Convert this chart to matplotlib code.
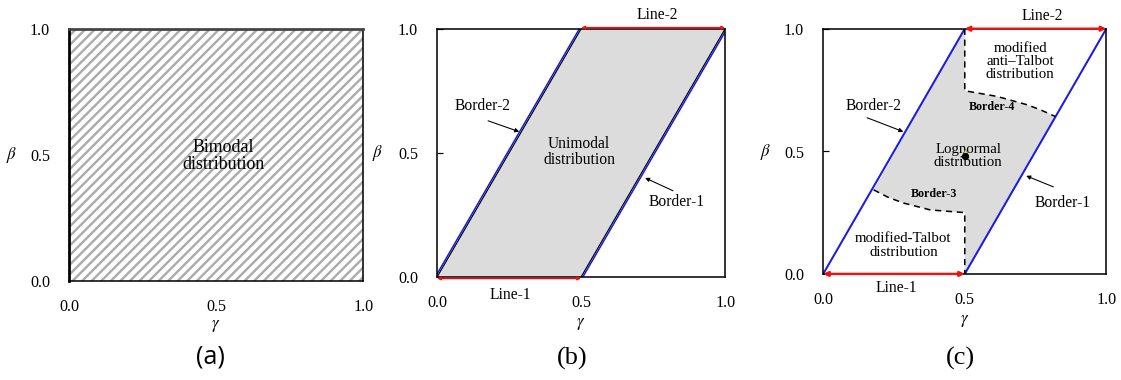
import numpy as np
import matplotlib.pyplot as plt

# dpi chosen so the hatch stripes come out close to the reference spacing
DPI = 86
plt.rcParams['font.family'] = ['Liberation Serif', 'DejaVu Serif']
plt.rcParams['mathtext.fontset'] = 'stix'
plt.rcParams['hatch.linewidth'] = 2.0

# ---- data ----
ticks = [0.0, 0.5, 1.0]
tick_labels = ['0.0', '0.5', '1.0']

# (a) whole square is bimodal
bimodal_g = [0.0, 1.0, 1.0, 0.0]
bimodal_b = [0.0, 0.0, 1.0, 1.0]

# borders of the unimodal region
border1_g = [0.5, 1.0]
border1_b = [0.0, 1.0]
border2_g = [0.0, 0.5]
border2_b = [0.0, 1.0]
line1_g = [0.0, 0.5]
line1_b = [0.0, 0.0]
line2_g = [0.5, 1.0]
line2_b = [1.0, 1.0]

# (c) dashed borders (curve + vertical part)
border3_g = [0.178, 0.23, 0.284, 0.378, 0.5, 0.5]
border3_b = [0.343, 0.312, 0.289, 0.261, 0.25, 0.0]
border4_g = [0.5, 0.5, 0.614, 0.72, 0.77, 0.82]
border4_b = [1.0, 0.747, 0.724, 0.69, 0.668, 0.642]

lognormal_pt = (0.5, 0.48)
symmetric_pt = (0.5, 0.5)

BLUE = '#1c1ce0'
RED = '#f01010'
GREY = '#dcdcdc'

fig = plt.figure(figsize=((1121 + 0.3) / DPI, (380 + 0.3) / DPI), dpi=DPI)
ax_a = fig.add_axes([69/1121, 1-281/380, 294/1121, 252/380])
ax_b = fig.add_axes([437/1121, 1-277/380, 288/1121, 248/380])
ax_c = fig.add_axes([823/1121, 1-274/380, 283/1121, 245/380])


def setup(ax, ytick_len, bx, gy):
    ax.set_xlim(0, 1)
    ax.set_ylim(0, 1)
    ax.set_xticks(ticks)
    ax.set_xticklabels(tick_labels)
    ax.set_yticks(ticks)
    ax.set_yticklabels(tick_labels)
    ax.tick_params(axis='x', length=0, pad=15, labelsize=13.5)
    ax.tick_params(axis='y', direction='in', length=ytick_len, width=1.0,
                   pad=16, labelsize=13.5)
    for s in ax.spines.values():
        s.set_linewidth(1.3)
    ax.text(bx, 0.5, r'$\beta$', transform=ax.transAxes, fontsize=14,
            ha='center', va='center')
    ax.text(0.5, gy, r'$\gamma$', transform=ax.transAxes, fontsize=14,
            ha='center', va='center')


def dbl_arrow(ax, g, b, lw, ms, dy=0.0):
    ax.annotate('', xy=(g[1], b[1] + dy), xytext=(g[0], b[0] + dy),
                arrowprops=dict(arrowstyle='<|-|>', color=RED, lw=lw,
                                mutation_scale=ms, shrinkA=0, shrinkB=0),
                annotation_clip=False, zorder=5)


def pointer(ax, text, txy, tip, tail, size=13):
    ax.text(txy[0], txy[1], text, fontsize=size, ha='center', va='center')
    ax.annotate('', xy=tip, xytext=tail,
                arrowprops=dict(arrowstyle='-|>', color='black', lw=0.9,
                                mutation_scale=7, shrinkA=0, shrinkB=0))


# ---- (a) ----
setup(ax_a, 0, -0.194, -0.178)
ax_a.fill(bimodal_g, bimodal_b, facecolor='white', edgecolor='#ababab',
          hatch='///', lw=0)
ax_a.spines['left'].set_linewidth(2.3)
ax_a.spines['top'].set_linewidth(2.3)
ax_a.spines['top'].set_color('#444444')
ax_a.text(0.524, 0.496, 'Bimodal\ndistribution', fontsize=15,
          ha='center', va='center', linespacing=1.05,
          bbox=dict(facecolor='none', edgecolor='none'))

# ---- (b) ----
setup(ax_b, 5, -0.208, -0.19)
uni_g = np.concatenate([border2_g, border1_g[::-1]])
uni_b = np.concatenate([border2_b, border1_b[::-1]])
ax_b.fill(uni_g, uni_b, color=GREY, lw=0)
ax_b.plot(border2_g, border2_b, color='black', lw=1.0)
ax_b.plot(np.array(border2_g) - 0.006, border2_b, color=BLUE, lw=1.3)
ax_b.plot(border1_g, border1_b, color='black', lw=1.0)
ax_b.plot(np.array(border1_g) + 0.006, border1_b, color=BLUE, lw=1.3)
dbl_arrow(ax_b, line1_g, line1_b, 1.4, 5, dy=-0.006)
dbl_arrow(ax_b, line2_g, line2_b, 1.4, 5, dy=0.004)
ax_b.text(0.493, 0.504, 'Unimodal\ndistribution', fontsize=13,
          ha='center', va='center', linespacing=1.05)
pointer(ax_b, 'Border-2', (0.156, 0.69), (0.285, 0.585), (0.177, 0.629))
pointer(ax_b, 'Border-1', (0.833, 0.302), (0.722, 0.399), (0.819, 0.347))
ax_b.text(0.253, -0.073, 'Line-1', fontsize=13, ha='center', va='center')
ax_b.text(0.764, 1.056, 'Line-2', fontsize=13, ha='center', va='center')

# ---- (c) ----
setup(ax_c, 5, -0.205, -0.19)
logn_g = np.concatenate([border4_g, [border1_g[0]], border3_g[::-1]])
logn_b = np.concatenate([border4_b, [border1_b[0]], border3_b[::-1]])
ax_c.fill(logn_g, logn_b, color=GREY, lw=0)
ax_c.plot(border2_g, border2_b, color=BLUE, lw=1.7)
ax_c.plot(border1_g, border1_b, color=BLUE, lw=1.7)
ax_c.plot(border3_g, border3_b, color='black', lw=1.3, ls=(0, (4, 3)))
ax_c.plot(border4_g, border4_b, color='black', lw=1.3, ls=(0, (4, 3)))
dbl_arrow(ax_c, line1_g, line1_b, 2.0, 8)
dbl_arrow(ax_c, line2_g, line2_b, 2.0, 8)
ax_c.plot(*symmetric_pt, marker='^', ms=4, color='#e8e060', mec='#606020',
          mew=0.5, zorder=6)
ax_c.plot(*lognormal_pt, marker='o', ms=5, color='black', zorder=7)
ax_c.text(0.696, 0.869, 'modified\nanti\u2013Talbot\ndistribution', fontsize=12.5,
          ha='center', va='center', linespacing=1.0)
ax_c.text(0.597, 0.68, 'Border-4', fontsize=10, fontweight='bold',
          ha='center', va='center')
ax_c.text(0.512, 0.482, 'Lognormal\ndistribution', fontsize=12.5,
          ha='center', va='center', linespacing=1.05)
ax_c.text(0.392, 0.326, 'Border-3', fontsize=10, fontweight='bold',
          ha='center', va='center')
ax_c.text(0.283, 0.118, 'modified-Talbot\ndistribution', fontsize=12.5,
          ha='center', va='center', linespacing=1.05)
pointer(ax_c, 'Border-2', (0.177, 0.686), (0.283, 0.58), (0.155, 0.637))
pointer(ax_c, 'Border-1', (0.845, 0.29), (0.717, 0.40), (0.813, 0.355))
ax_c.text(0.26, -0.057, 'Line-1', fontsize=13, ha='center', va='center')
ax_c.text(0.774, 1.053, 'Line-2', fontsize=13, ha='center', va='center')

# panel letters
fig.text(210/1121, 1-357/380, '(a)', fontsize=21, family=['Open Sans', 'DejaVu Sans'],
         ha='center', va='center')
fig.text(572/1121, 1-358/380, '(b)', fontsize=22, ha='center', va='center')
fig.text(960/1121, 1-358/380, '(c)', fontsize=22, ha='center', va='center')

fig.savefig('out.png', dpi=DPI)
